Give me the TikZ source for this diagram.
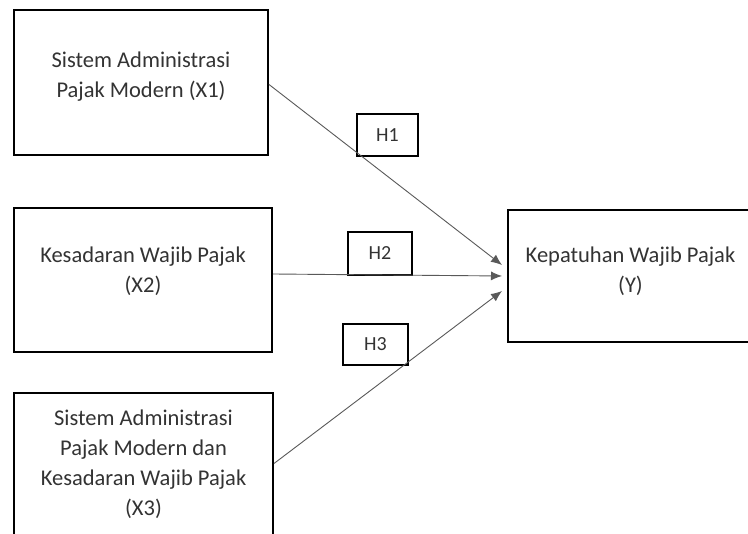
\documentclass[tikz,border=0pt]{standalone}
\usepackage{fontspec}
\setmainfont{Carlito}
\usetikzlibrary{arrows.meta}

\tikzset{
  varbox/.style={draw=black, line width=2pt, align=center, text=black!80,
    font=\fontsize{22.5}{30}\selectfont},
  hbox/.style={draw=black, line width=2pt, text=black!80,
    font=\fontsize{20}{24}\selectfont},
  path/.style={draw=black!65, line width=0.9pt, -{Latex[length=11pt,width=9pt]}}
}

\begin{document}
\begin{tikzpicture}[x=1pt,y=-1pt]
\useasboundingbox (0,0) rectangle (748,534);
% variables
\node[varbox, text depth=15pt, minimum width=254pt, minimum height=145pt] (x1) at (141,82.5)
  {Sistem Administrasi\\Pajak Modern (X1)};
\node[varbox, text depth=21pt, minimum width=258pt, minimum height=144pt] (x2) at (143,280)
  {Kesadaran Wajib Pajak\\(X2)};
\node[varbox, minimum width=259pt, minimum height=143pt] (x3) at (143.5,464.5)
  {Sistem Administrasi\\Pajak Modern dan\\Kesadaran Wajib Pajak\\(X3)};
\node[varbox, text depth=12pt, minimum width=245pt, minimum height=132pt] (y) at (630.5,276)
  {Kepatuhan Wajib Pajak\\(Y)};
% hypotheses
\node[hbox, minimum width=61pt, minimum height=42pt] (h1) at (387.5,135) {H1};
\node[hbox, minimum width=64pt, minimum height=43pt] (h2) at (380,253.5) {H2};
\node[hbox, minimum width=65pt, minimum height=41pt] (h3) at (375.5,344.5) {H3};
% arrows
\draw[path] ([yshift=-2pt]x1.east) -- ([xshift=-5pt,yshift=11pt]y.west);
\draw[path] ([yshift=6pt]x2.east) -- ([xshift=-5pt]y.west);
\draw[path] ([yshift=1pt]x3.east) -- ([xshift=-5pt,yshift=-15pt]y.west);
\end{tikzpicture}
\end{document}
